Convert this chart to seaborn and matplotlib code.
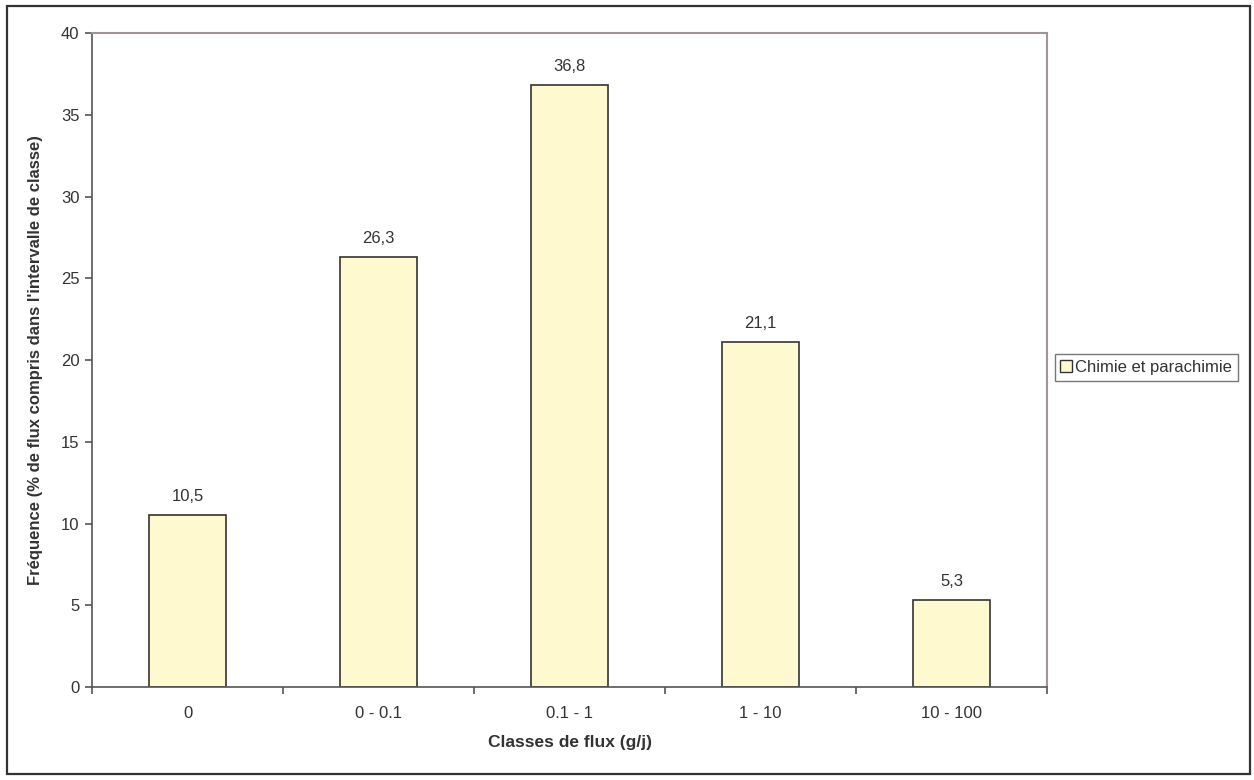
import matplotlib
matplotlib.use("Agg")
import matplotlib.pyplot as plt
import seaborn as sns
import pandas as pd
import numpy as np
from matplotlib.patches import Rectangle, Patch

classes = ["0", "0 - 0.1", "0.1 - 1", "1 - 10", "10 - 100"]
frequence = [10.5, 26.3, 36.8, 21.1, 5.3]
series_name = "Chimie et parachimie"

sns.set_style("white")
plt.rcParams['font.family'] = ['Liberation Sans', 'DejaVu Sans']

df = pd.DataFrame({"classe": classes, "freq": frequence})

fig = plt.figure(figsize=(12.54, 7.8), dpi=100)
ax = fig.add_axes([0.0734, 0.1192, 0.7616, 0.8385])

sns.barplot(data=df, x="classe", y="freq", color="#FFF9D0", edgecolor="#333333",
            linewidth=1.2, width=0.4, saturation=1, ax=ax)

for i, v in enumerate(frequence):
    ax.annotate(f"{v:.1f}".replace(".", ","), (i, v), xytext=(0, 8),
                textcoords="offset points", ha="center", va="bottom",
                fontsize=12, color="#333333")

ax.set_xlim(-0.5, 4.5)
ax.set_ylim(0, 40)
ax.set_yticks(np.arange(0, 41, 5))
ax.set_xticks(np.arange(-0.5, 5, 1), minor=False)
ax.set_xticklabels([])
ax.set_xticks(range(5), minor=True)
ax.set_xticklabels(classes, minor=True)
ax.tick_params(axis="x", which="minor", bottom=True, length=0, pad=14, labelsize=12,
               labelcolor="#333333")
ax.tick_params(axis="x", which="major", bottom=True, length=5, width=1.2,
               direction="out", color="#555555")
ax.tick_params(axis="y", left=True, length=5, width=1.2, direction="out",
               color="#555555", labelsize=12, labelcolor="#333333", pad=4)

ax.set_xlabel("Classes de flux (g/j)", fontsize=12.5, fontweight="bold", labelpad=10,
              color="#333333")
ax.set_ylabel("Fréquence (% de flux compris dans l'intervalle de classe)", fontsize=12,
              fontweight="bold", labelpad=13, color="#333333")

for s in ["left", "bottom"]:
    ax.spines[s].set_color("#555555")
    ax.spines[s].set_linewidth(1.2)
for s in ["top", "right"]:
    ax.spines[s].set_color("#A09494")
    ax.spines[s].set_linewidth(1.5)

handle = Patch(facecolor="#FFF9D0", edgecolor="#333333", linewidth=1.0)
leg = fig.legend([handle], [series_name], loc="center left",
                 bbox_to_anchor=(0.841, 0.529), frameon=True, fancybox=False,
                 fontsize=12, handlelength=0.7, handleheight=0.7, handletextpad=0.2,
                 borderpad=0.35, borderaxespad=0)
leg.get_frame().set_edgecolor("#555555")
leg.get_frame().set_linewidth(1.0)
for t in leg.get_texts():
    t.set_color("#333333")

fig.patches.append(Rectangle((0.0055, 0.008), 0.9915, 0.984, transform=fig.transFigure,
                             fill=False, edgecolor="#333333", linewidth=1.6))

fig.savefig("out.png", dpi=100)
